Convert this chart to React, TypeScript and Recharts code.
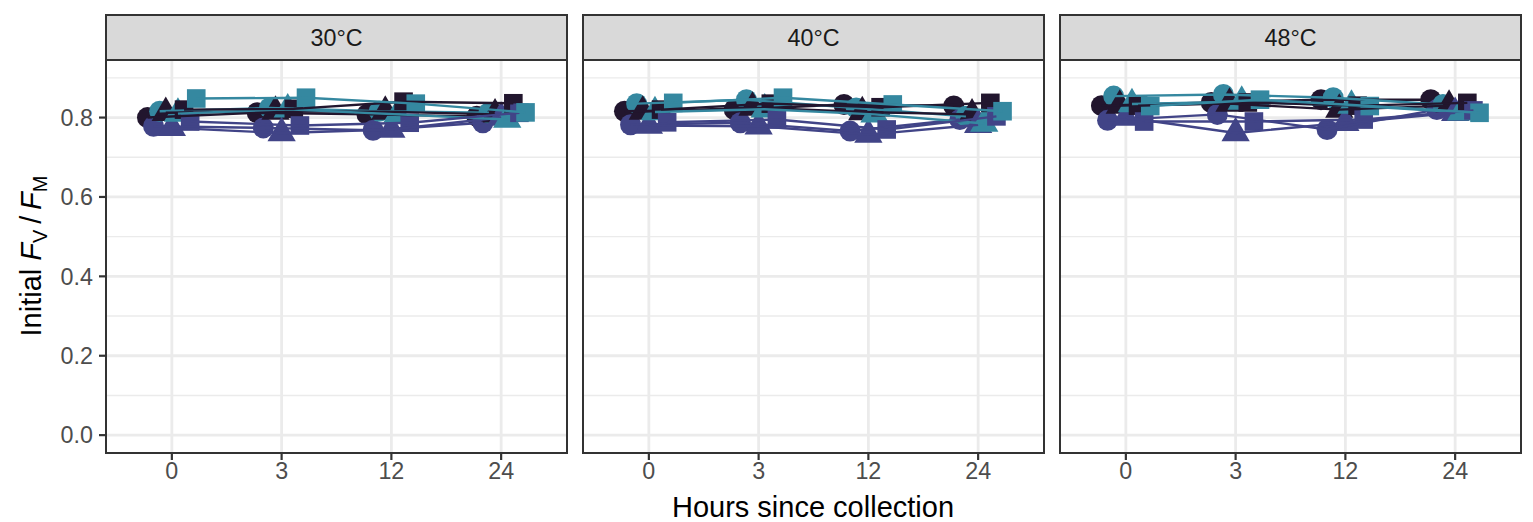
import React from "react";
import { ComposedChart, Scatter, XAxis, YAxis, ReferenceLine } from "recharts";

const hours = ["0", "3", "12", "24"];
const temps = ["30°C", "40°C", "48°C"];
const colors = ["#22162e", "#414487", "#3588a0"];
const shapes = ["circle", "triangle", "square"];

// order: circle(dark, indigo, teal), triangle(dark, indigo, teal), square(dark, indigo, teal)
const temp30 = [
  [0.8, 0.812, 0.808, 0.803],
  [0.778, 0.774, 0.768, 0.787],
  [0.816, 0.824, 0.816, 0.812],
  [0.812, 0.815, 0.815, 0.808],
  [0.774, 0.761, 0.77, 0.8],
  [0.81, 0.821, 0.808, 0.795],
  [0.82, 0.822, 0.84, 0.836],
  [0.79, 0.78, 0.787, 0.812],
  [0.848, 0.85, 0.835, 0.813],
];
const temp40 = [
  [0.816, 0.82, 0.833, 0.829],
  [0.782, 0.787, 0.766, 0.795],
  [0.835, 0.845, 0.824, 0.803],
  [0.815, 0.825, 0.814, 0.808],
  [0.78, 0.778, 0.757, 0.782],
  [0.814, 0.821, 0.808, 0.785],
  [0.82, 0.835, 0.826, 0.837],
  [0.788, 0.795, 0.77, 0.803],
  [0.837, 0.85, 0.833, 0.816],
];
const temp48 = [
  [0.83, 0.838, 0.845, 0.845],
  [0.793, 0.808, 0.77, 0.82],
  [0.854, 0.858, 0.85, 0.833],
  [0.83, 0.835, 0.82, 0.83],
  [0.8, 0.761, 0.787, 0.812],
  [0.834, 0.84, 0.83, 0.813],
  [0.83, 0.838, 0.83, 0.837],
  [0.79, 0.79, 0.795, 0.818],
  [0.829, 0.845, 0.829, 0.812],
];
const panels = [temp30, temp40, temp48];

const yTicks = [0, 0.2, 0.4, 0.6, 0.8];
const yMinor = [0.1, 0.3, 0.5, 0.7, 0.9];

const FONT = '"Liberation Sans", Arial, sans-serif';
const PANEL_LEFT = [106, 583, 1060];
const PANEL_W = 461;
const PANEL_TOP = 60;
const PANEL_H = 393;
const DODGE = 0.5;
const MARK = 10.5;

function Marker({ cx, cy, fill, kind }: any) {
  if (cx == null || cy == null) return null;
  if (kind === "circle") return <circle cx={cx} cy={cy} r={MARK} fill={fill} />;
  if (kind === "square") {
    const h = MARK * 0.886;
    return <rect x={cx - h} y={cy - h} width={h * 2} height={h * 2} fill={fill} />;
  }
  const r = MARK * 1.555;
  const hw = MARK * 1.347;
  const yc = MARK * 0.778;
  return (
    <polygon
      points={`${cx},${cy - r} ${cx + hw},${cy + yc} ${cx - hw},${cy + yc}`}
      fill={fill}
    />
  );
}

function Facet({ values, showY }: { values: number[][]; showY: boolean }) {
  const series = values.map((vals, k) => {
    const off = ((k + 0.5) / values.length - 0.5) * DODGE;
    return {
      color: colors[k % 3],
      kind: shapes[Math.floor(k / 3)],
      data: vals.map((y, i) => ({ x: i + off, y })),
    };
  });
  const yw = showY ? PANEL_LEFT[0] : 0;
  return (
    <ComposedChart
      width={PANEL_W + yw}
      height={PANEL_H + 70}
      margin={{ top: 0, right: 0, bottom: 0, left: 0 }}
    >
      <XAxis
        type="number"
        dataKey="x"
        domain={[-0.6, 3.6]}
        ticks={[0, 1, 2, 3]}
        interval={0}
        allowDataOverflow
        tickFormatter={(i: number) => hours[i]}
        height={70}
        axisLine={false}
        tickLine={{ stroke: "#333333", strokeWidth: 2.2 }}
        tickSize={7}
        tickMargin={2}
        tick={{ fontSize: 23.3, fill: "#4d4d4d", fontFamily: FONT }}
      />
      <YAxis
        type="number"
        dataKey="y"
        domain={[-0.045, 0.945]}
        ticks={yTicks}
        interval={0}
        allowDataOverflow
        hide={!showY}
        width={yw}
        tickFormatter={(v: number) => v.toFixed(1)}
        axisLine={false}
        tickLine={{ stroke: "#333333", strokeWidth: 2.2 }}
        tickSize={7}
        tickMargin={6}
        tick={{ fontSize: 23.3, fill: "#4d4d4d", fontFamily: FONT }}
      />
      {yMinor.map((v) => (
        <ReferenceLine key={"m" + v} y={v} stroke="#ebebeb" strokeWidth={1.4} />
      ))}
      {yTicks.map((v) => (
        <ReferenceLine key={"y" + v} y={v} stroke="#ebebeb" strokeWidth={2.8} />
      ))}
      {hours.map((_, i) => (
        <ReferenceLine key={"x" + i} x={i} stroke="#ebebeb" strokeWidth={2.8} />
      ))}
      {series.map((s, k) => (
        <Scatter
          key={"p" + k}
          data={s.data}
          dataKey="y"
          isAnimationActive={false}
          shape={(p: any) => <Marker cx={p.cx} cy={p.cy} fill={s.color} kind={s.kind} />}
        />
      ))}
      {series.map((s, k) => (
        <Scatter
          key={"l" + k}
          data={s.data}
          dataKey="y"
          isAnimationActive={false}
          line={{ stroke: s.color, strokeWidth: 2.4 }}
          shape={() => <g />}
        />
      ))}
    </ComposedChart>
  );
}

export default function App() {
  return (
    <div
      style={{
        position: "absolute",
        left: 0,
        top: 0,
        width: 1533,
        height: 522,
        background: "#ffffff",
        fontFamily: FONT,
        overflow: "hidden",
      }}
    >
      {panels.map((vals, p) => (
        <div
          key={p}
          style={{
            position: "absolute",
            left: p === 0 ? 0 : PANEL_LEFT[p],
            top: PANEL_TOP,
          }}
        >
          <Facet values={vals} showY={p === 0} />
        </div>
      ))}
      <svg
        width={1533}
        height={522}
        style={{ position: "absolute", left: 0, top: 0, pointerEvents: "none" }}
      >
        {PANEL_LEFT.map((x, p) => (
          <g key={p}>
            <rect
              x={x}
              y={PANEL_TOP}
              width={PANEL_W}
              height={PANEL_H}
              fill="none"
              stroke="#333333"
              strokeWidth={2}
            />
            <rect
              x={x}
              y={15}
              width={PANEL_W}
              height={PANEL_TOP - 15}
              fill="#d9d9d9"
              stroke="#333333"
              strokeWidth={2}
            />
            <text
              x={x + PANEL_W / 2}
              y={46}
              textAnchor="middle"
              fontSize={23.3}
              fill="#1a1a1a"
              fontFamily={FONT}
            >
              {temps[p]}
            </text>
          </g>
        ))}
        <text x={813} y={517} textAnchor="middle" fontSize={29} fill="#000000" fontFamily={FONT}>
          Hours since collection
        </text>
        <text
          transform="translate(41,256) rotate(-90)"
          textAnchor="middle"
          fontSize={29}
          fill="#000000"
          fontFamily={FONT}
        >
          <tspan>Initial </tspan>
          <tspan fontStyle="italic">F</tspan>
          <tspan fontSize={20} dy={6}>V</tspan>
          <tspan dy={-6}>{"\u2009/\u2009"}</tspan>
          <tspan fontStyle="italic">F</tspan>
          <tspan fontSize={20} dy={6}>M</tspan>
        </text>
      </svg>
    </div>
  );
}
